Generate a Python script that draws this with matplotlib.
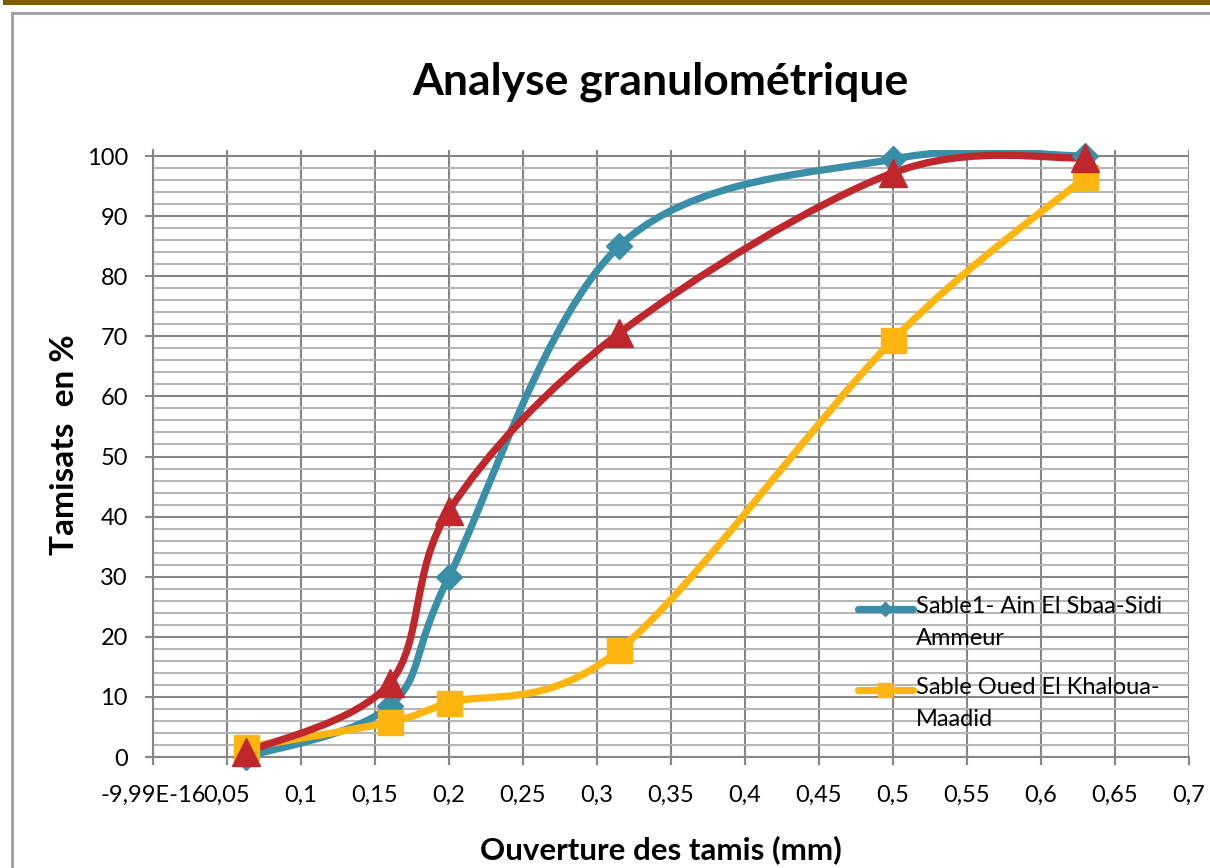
import matplotlib
matplotlib.use("Agg")
import matplotlib.pyplot as plt
from matplotlib.path import Path
from matplotlib.patches import PathPatch, Rectangle
from matplotlib.lines import Line2D
from matplotlib.ticker import FixedLocator, FixedFormatter, MultipleLocator

plt.rcParams["font.family"] = ["Lato", "DejaVu Sans"]

# Data
ouverture = [0.063, 0.16, 0.2, 0.315, 0.5, 0.63]
sable1 = [0.0, 8.5, 30.0, 85.0, 99.5, 100.0]
sable_oued = [1.6, 5.8, 9.0, 17.8, 69.4, 96.5]
sable3 = [0.8, 12.3, 41.0, 70.5, 97.2, 99.7]

labels = ["Sable1- Ain El Sbaa-Sidi\nAmmeur", "Sable Oued El Khaloua-\nMaadid"]
x_ticks = [0, 0.05, 0.1, 0.15, 0.2, 0.25, 0.3, 0.35, 0.4, 0.45, 0.5, 0.55, 0.6, 0.65, 0.7]
x_ticklabels = ["-9,99E-16", "0,05", "0,1", "0,15", "0,2", "0,25", "0,3", "0,35", "0,4",
                "0,45", "0,5", "0,55", "0,6", "0,65", "0,7"]

teal = "#3A8FA8"
yellow = "#FFB50F"
red = "#C0272D"


def smooth_path(xs, ys):
    # Excel-like smoothed line: Catmull-Rom segments as cubic Beziers
    pts = list(zip(xs, ys))
    verts = [pts[0]]
    codes = [Path.MOVETO]
    n = len(pts)
    for i in range(n - 1):
        p0 = pts[i - 1] if i > 0 else pts[i]
        p1 = pts[i]
        p2 = pts[i + 1]
        p3 = pts[i + 2] if i + 2 < n else pts[i + 1]
        c1 = (p1[0] + (p2[0] - p0[0]) / 6, p1[1] + (p2[1] - p0[1]) / 6)
        c2 = (p2[0] - (p3[0] - p1[0]) / 6, p2[1] - (p3[1] - p1[1]) / 6)
        verts += [c1, c2, p2]
        codes += [Path.CURVE4] * 3
    return Path(verts, codes)


W, H = 1210, 868
fig = plt.figure(figsize=(W / 100, H / 100), dpi=100)
fig.patch.set_facecolor("white")

# decorative frame
fig.patches.append(Rectangle((3 / W, 1 - 5 / H), 1, 5 / H, transform=fig.transFigure,
                             facecolor="#7F5A00", edgecolor="none"))
fig.lines.append(Line2D([12 / W, 12 / W], [0, 1 - 13 / H], transform=fig.transFigure,
                        color="#A0A0A0", lw=2))
fig.lines.append(Line2D([12 / W, 1], [1 - 13 / H, 1 - 13 / H], transform=fig.transFigure,
                        color="#A0A0A0", lw=2))

ax = fig.add_axes([153 / W, 1 - 757 / H, (1189 - 153) / W, (757 - 150) / H])
ax.set_xlim(0, 0.7)
ax.set_ylim(0, 101)

# grid
ax.yaxis.set_major_locator(FixedLocator(range(0, 101, 10)))
ax.yaxis.set_minor_locator(MultipleLocator(2))
ax.xaxis.set_major_locator(FixedLocator(x_ticks))
ax.xaxis.set_major_formatter(FixedFormatter(x_ticklabels))
ax.grid(which="major", color="#868686", lw=1.5)
ax.grid(which="minor", axis="y", color="#B4B4B4", lw=1.4)
ax.set_axisbelow(True)
for s in ["top", "right"]:
    ax.spines[s].set_visible(False)
for s in ["left", "bottom"]:
    ax.spines[s].set_color("#868686")
    ax.spines[s].set_linewidth(1.5)
ax.tick_params(which="major", direction="out", length=6, width=1.5, color="#868686",
               labelsize=17)
ax.tick_params(axis="x", pad=14)
ax.tick_params(axis="y", pad=12)
ax.tick_params(which="minor", length=0)

series = [(sable1, teal, "D", 13), (sable_oued, yellow, "s", 18), (sable3, red, "^", 20)]
for ys, col, mk, ms in series:
    ax.add_patch(PathPatch(smooth_path(ouverture, ys), facecolor="none", edgecolor=col,
                           lw=5.2, capstyle="round", joinstyle="round", zorder=3))
    ax.plot(ouverture, ys, linestyle="none", marker=mk, markersize=ms, color=col,
            markeredgecolor=col, zorder=4, clip_on=False)

# legend, drawn by hand so the key sits on the first text line
leg_items = [(labels[0], teal, "D", 7, 609), (labels[1], yellow, "s", 10, 690)]
for text, col, mk, ms, ypx in leg_items:
    fig.lines.append(Line2D([858 / W, 913 / W], [1 - ypx / H] * 2, transform=fig.transFigure,
                            color=col, lw=5.2, solid_capstyle="round", zorder=5))
    fig.lines.append(Line2D([885 / W], [1 - ypx / H], transform=fig.transFigure,
                            color=col, marker=mk, markersize=ms, linestyle="none", zorder=5))
    fig.text(916 / W, 1 - (ypx - 13) / H, text, ha="left", va="top", fontsize=17,
             linespacing=1.65)

fig.text(660 / W, 1 - 82 / H, "Analyse granulométrique", ha="center", va="center",
         fontsize=32, fontweight="bold")
fig.text(65 / W, 1 - 445 / H, "Tamisats  en %", ha="center", va="center",
         rotation=90, fontsize=24, fontweight="bold")
fig.text(661 / W, 1 - 850 / H, "Ouverture des tamis (mm)", ha="center", va="center",
         fontsize=22.5, fontweight="bold")

fig.savefig("out.png", dpi=100)
